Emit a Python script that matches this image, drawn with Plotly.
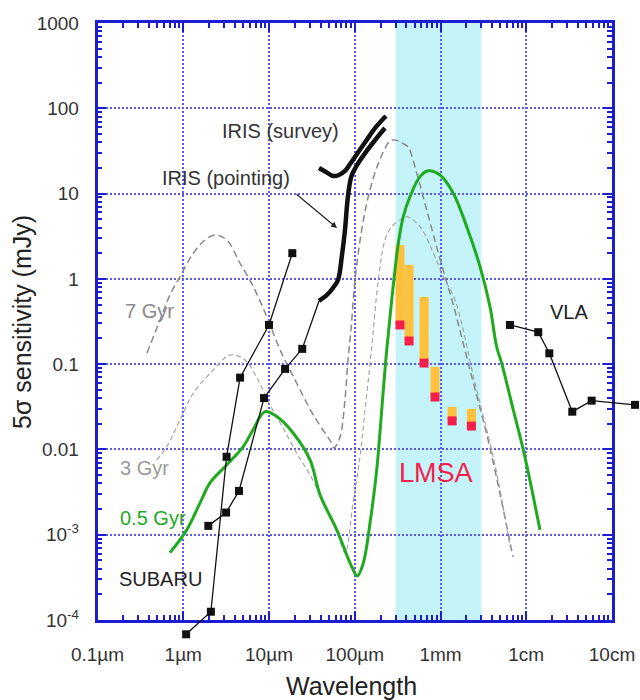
import plotly.graph_objects as go

# ---------------- data (wavelength in micron, flux in mJy) ----------------
subaru_a_wl = [1.08, 2.1, 3.2, 4.6, 10.0, 18.7]
subaru_a_flux = [6.8e-5, 1.25e-4, 8.2e-3, 0.0695, 0.288, 2.0]

subaru_b_wl = [1.96, 3.16, 4.47, 8.75, 15.4, 24.4]
subaru_b_flux = [1.27e-3, 1.82e-3, 3.26e-3, 0.040, 0.088, 0.151]

iris_point_wl = [38.3, 47.4, 55.7, 63.8, 71.0, 76.9, 81.3, 84.5, 91.6, 106.2, 135.2, 177, 225]
iris_point_flux = [0.551, 0.647, 0.782, 0.970, 1.905, 3.74, 7.35, 10.4, 16.1, 21.6, 30.8, 43.7, 58.7]

iris_survey_wl = [38.3, 46.2, 55.7, 65.5, 76.9, 88.1, 106.2, 135.2, 177, 231]
iris_survey_flux = [19.9, 17.9, 16.1, 16.5, 18.4, 22.2, 29.1, 41.4, 60.4, 81.3]

vla_wl = [6457, 13800, 18580, 34430, 57940, 185400]
vla_flux = [0.288, 0.237, 0.134, 0.0277, 0.0373, 0.0333]

lmsa_wl = [337, 430, 643, 863, 1365, 2296]
lmsa_upper = [2.49, 1.46, 0.614, 0.0927, 0.0315, 0.0299]
lmsa_lower = [0.288, 0.187, 0.103, 0.0412, 0.0216, 0.0188]
lmsa_band = [300, 3000]

gyr05_wl = [0.70, 1.10, 1.57, 2.05, 3.21, 5.01, 6.50, 8.97, 12.3, 19.1, 30.1, 39.4, 61.7,
            92.0, 107.2, 125.9, 150.7, 180.3, 215.3, 236.0, 269.8, 322.1, 368.1, 440.6,
            576.8, 721.1, 986.3, 1409, 2023, 2891, 3776, 4519, 5176, 7063, 9247, 12078, 14454]
gyr05_flux = [6.17e-4, 1.14e-3, 2.36e-3, 4.05e-3, 6.58e-3, 0.0108, 0.0169, 0.0278, 0.0243,
              0.0156, 7.53e-3, 2.93e-3, 1.14e-3, 4.23e-4, 3.29e-4, 4.67e-4, 1.37e-3, 5.75e-3,
              0.0499, 0.147, 0.566, 2.61, 5.36, 9.20, 15.8, 18.5, 16.5, 10.1, 4.09, 1.39,
              0.472, 0.160, 0.102, 0.0290, 9.86e-3, 2.80e-3, 1.14e-3]

gyr7_wl = [0.378, 0.536, 0.700, 0.916, 1.309, 1.795, 2.344, 3.214, 4.592, 6.561, 9.419, 13.46,
           21.04, 32.89, 53.83, 57.28, 67.3, 76.9, 83.4, 90.4, 100.7, 120.5, 143.9, 188.4,
           257.6, 294.4, 355.6, 417.8, 527.2, 690.2, 903.6, 1159, 1361, 2208, 3776, 6998]
gyr7_flux = [0.135, 0.330, 0.647, 1.062, 1.995, 2.858, 3.273, 2.858, 1.524, 0.811, 0.361, 0.147,
             0.0597, 0.0254, 0.0118, 0.0104, 0.0140, 0.0380, 0.112, 0.252, 0.970, 3.74, 9.20,
             22.6, 41.4, 42.5, 39.2, 35.2, 17.4, 6.43, 2.37, 0.970, 0.566, 0.0855, 0.0104, 5.50e-4]

gyr3_wl = [0.490, 0.641, 0.916, 1.309, 2.239, 3.508, 5.248, 7.447, 10.28, 14.55, 20.65, 30.06,
           44.98, 63.83, 76.91, 95.50, 115.1, 128.2, 157.8, 188.4, 225.4, 269.8, 337.3, 403.6,
           576.8, 824.1, 1079, 1476, 2523, 4325, 6457]
gyr3_flux = [7.53e-3, 0.0108, 0.0222, 0.0456, 0.0855, 0.128, 0.112, 0.0653, 0.0333, 0.0179,
             9.35e-3, 5.02e-3, 2.23e-3, 9.95e-4, 6.12e-4, 2.36e-3, 8.17e-3, 0.0222, 0.160,
             0.970, 2.858, 4.09, 4.90, 5.36, 4.09, 2.01, 1.05, 0.566, 0.0603, 6.58e-3, 7.19e-4]

x_tickvals = [0.1, 1, 10, 100, 1000, 1e4, 1e5]
x_ticktext = ["0.1µm", "1µm", "10µm", "100µm", "1mm", "1cm", "10cm"]
y_tickvals = [1e-4, 1e-3, 0.01, 0.1, 1, 10, 100, 1000]
y_ticktext = ["10<sup>-4</sup>", "10<sup>-3</sup>", "0.01", "0.1", "1", "10", "100", "1000"]

# ---------------- layout geometry (pixels) ----------------
W, H = 640, 700
PX_L, PX_R, PX_T, PX_B = 97.5, 612.0, 23.0, 620.0
XLOG = (-1.0, 5.0)
YLOG = (-4.0, 3.0)
px_per_dec_x = (PX_R - PX_L) / (XLOG[1] - XLOG[0])
px_per_dec_y = (PX_B - PX_T) / (YLOG[1] - YLOG[0])

BLUE = "#1c1cd0"
GRID = "#5a5ae6"
GREEN = "#1faa1f"
ORANGE = "#ffc03c"
RED = "#f5204a"
CYAN = "#c4f4fa"
FONT = "Liberation Sans, Arial, Helvetica, sans-serif"


def px(xp):
    return xp / W


def py(yp):
    return 1 - yp / H


fig = go.Figure()
ov = dict(xaxis="x2", yaxis="y2")

# model SEDs
fig.add_trace(go.Scatter(x=gyr7_wl, y=gyr7_flux, mode="lines", line_shape="spline",
                         line=dict(color="#888888", width=1.5, dash="7px,4px"), **ov))
fig.add_trace(go.Scatter(x=gyr3_wl, y=gyr3_flux, mode="lines", line_shape="spline",
                         line=dict(color="#a0a0a0", width=1.1, dash="5px,3px"), **ov))

# LMSA bars
bx, by = [], []
for w, lo, hi in zip(lmsa_wl, lmsa_lower, lmsa_upper):
    bx += [w, w, None]
    by += [lo, hi, None]
fig.add_trace(go.Scatter(x=bx, y=by, mode="lines", line=dict(color=ORANGE, width=9), **ov))
fig.add_trace(go.Scatter(x=lmsa_wl, y=lmsa_lower, mode="markers",
                         marker=dict(symbol="square", size=9, color=RED), **ov))

# 0.5 Gyr
fig.add_trace(go.Scatter(x=gyr05_wl, y=gyr05_flux, mode="lines", line_shape="spline",
                         line=dict(color=GREEN, width=3), **ov))

# SUBARU and connector to IRIS
fig.add_trace(go.Scatter(x=[subaru_b_wl[-1], iris_point_wl[0]], y=[subaru_b_flux[-1], iris_point_flux[0]],
                         mode="lines", line=dict(color="#111", width=1.3), **ov))
for wl, fl in [(subaru_a_wl, subaru_a_flux), (subaru_b_wl, subaru_b_flux), (vla_wl, vla_flux)]:
    fig.add_trace(go.Scatter(x=wl, y=fl, mode="lines+markers", cliponaxis=False,
                             line=dict(color="#111", width=1.3),
                             marker=dict(symbol="square", size=8, color="#111"), **ov))

# IRIS
fig.add_trace(go.Scatter(x=iris_point_wl, y=iris_point_flux, mode="lines", line_shape="spline",
                         line=dict(color="#111", width=4.5), **ov))
fig.add_trace(go.Scatter(x=iris_survey_wl, y=iris_survey_flux, mode="lines", line_shape="spline",
                         line=dict(color="#111", width=4.5), **ov))

# LMSA band shading
fig.add_shape(type="rect", xref="x", yref="y domain", x0=lmsa_band[0], x1=lmsa_band[1],
              y0=0, y1=1, fillcolor=CYAN, line_width=0, layer="below")

minor_x = [k * 10.0 ** n for n in range(-1, 5) for k in range(2, 10)]
minor_y = [k * 10.0 ** n for n in range(-4, 3) for k in range(2, 10)]

axis_common = dict(type="log", showline=True, linecolor=BLUE, linewidth=2.5, mirror="allticks",
                   ticks="inside", ticklen=9, tickwidth=2, tickcolor=BLUE,
                   showgrid=True, gridcolor=GRID, gridwidth=2, griddash="2px,2px",
                   tickmode="array", tickfont=dict(family=FONT, size=19, color="#333"),
                   zeroline=False, automargin=False)

fig.update_layout(
    width=W, height=H, autosize=False,
    margin=dict(l=0, r=0, t=0, b=0),
    paper_bgcolor="white", plot_bgcolor="rgba(0,0,0,0)",
    showlegend=False,
    font=dict(family=FONT),
    xaxis=dict(axis_common, range=list(XLOG), domain=[px(PX_L), px(PX_R)], anchor="y",
               tickvals=x_tickvals, ticktext=x_ticktext, ticklabelstandoff=15,
               minor=dict(ticks="inside", ticklen=5, tickwidth=1.5, tickcolor=BLUE,
                          tickmode="array", tickvals=minor_x, showgrid=False)),
    yaxis=dict(axis_common, range=list(YLOG), domain=[py(PX_B), py(PX_T)], anchor="x",
               tickvals=y_tickvals, ticktext=y_ticktext, ticklabelstandoff=12,
               minor=dict(ticks="inside", ticklen=5, tickwidth=1.5, tickcolor=BLUE,
                          tickmode="array", tickvals=minor_y, showgrid=False)),
    xaxis2=dict(type="log", visible=False, anchor="y2", domain=[px(PX_L), 1.0],
                range=[XLOG[0], XLOG[0] + (W - PX_L) / px_per_dec_x]),
    yaxis2=dict(type="log", visible=False, anchor="x2", domain=[0.0, py(PX_T)],
                range=[YLOG[1] - (H - PX_T) / px_per_dec_y, YLOG[1]]),
)

labels = [
    ("IRIS (survey)", 220, 131, "#333", 20),
    ("IRIS (pointing)", 160, 178, "#333", 20),
    ("7 Gyr", 123, 311, "#8a8a8a", 20),
    ("3 Gyr", 118, 468, "#9a9a9a", 20),
    ("0.5 Gyr", 118, 518, GREEN, 20),
    ("SUBARU", 117, 579, "#222", 20),
    ("VLA", 548, 312, "#222", 20),
    ("LMSA", 397, 473, RED, 27),
]
for txt, xp, yp, col, sz in labels:
    fig.add_annotation(text=txt, xref="paper", yref="paper", x=px(xp), y=py(yp),
                       xanchor="left", yanchor="middle", showarrow=False,
                       font=dict(family=FONT, size=sz, color=col))

# arrow for IRIS (pointing)
fig.add_annotation(text="", xref="paper", yref="paper", x=px(337), y=py(228),
                   ax=-42, ay=-35, showarrow=True, arrowhead=2, arrowsize=1,
                   arrowwidth=1.2, arrowcolor="#222", standoff=0)

# axis titles
fig.add_annotation(text="Wavelength", xref="paper", yref="paper", x=px(351), y=py(686),
                   xanchor="center", yanchor="middle", showarrow=False,
                   font=dict(family=FONT, size=25, color="#222"))
fig.add_annotation(text="5σ sensitivity (mJy)", xref="paper", yref="paper", x=px(22), y=py(322),
                   xanchor="center", yanchor="middle", showarrow=False, textangle=-90,
                   font=dict(family=FONT, size=25, color="#222"))

fig.write_html("out.html", config={"displayModeBar": False},
               post_script="document.body.style.margin='0px';")
